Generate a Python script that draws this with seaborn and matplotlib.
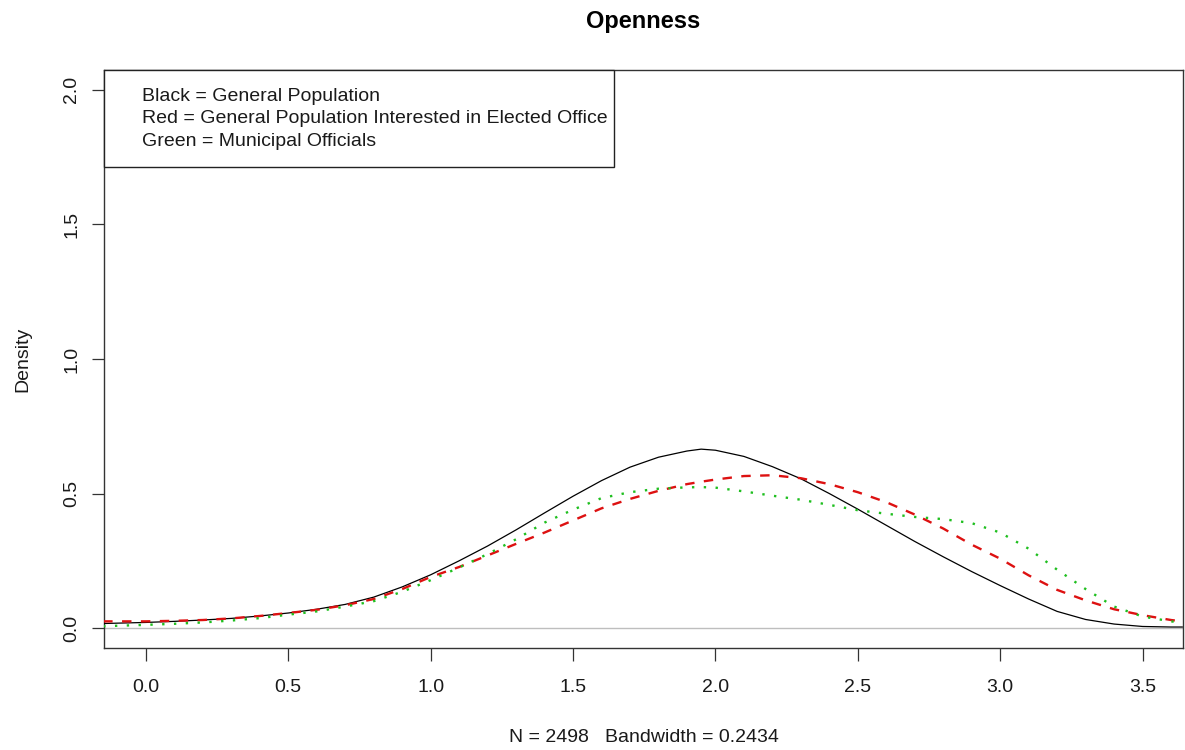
import matplotlib
matplotlib.use("Agg")
import matplotlib.pyplot as plt
from matplotlib.lines import Line2D
from matplotlib.ticker import FormatStrFormatter
import pandas as pd
import seaborn as sns

# density estimates
x_grid = [-0.15, 0.0, 0.1, 0.2, 0.3, 0.4, 0.5, 0.6, 0.7, 0.8, 0.9, 1.0,
          1.1, 1.2, 1.3, 1.4, 1.5, 1.6, 1.7, 1.8, 1.9, 1.95, 2.0, 2.1, 2.2,
          2.3, 2.4, 2.5, 2.6, 2.7, 2.8, 2.9, 3.0, 3.1, 3.2, 3.3, 3.4,
          3.5, 3.6, 3.64]
general_pop = [0.017, 0.021, 0.025, 0.030, 0.036, 0.045, 0.056, 0.070, 0.088, 0.115,
               0.153, 0.198, 0.250, 0.305, 0.365, 0.428, 0.490, 0.548, 0.598, 0.635,
               0.658, 0.665, 0.661, 0.638, 0.600, 0.555, 0.500, 0.442, 0.382, 0.322,
               0.265, 0.210, 0.158, 0.108, 0.062, 0.032, 0.015, 0.006, 0.004, 0.004]
interested = [0.025, 0.025, 0.027, 0.030, 0.036, 0.045, 0.056, 0.068, 0.085, 0.108,
              0.145, 0.190, 0.227, 0.270, 0.313, 0.355, 0.400, 0.445, 0.480, 0.510,
              0.535, 0.544, 0.552, 0.565, 0.568, 0.557, 0.535, 0.505, 0.468, 0.422,
              0.370, 0.310, 0.258, 0.196, 0.142, 0.103, 0.070, 0.048, 0.030, 0.025]
officials = [0.007, 0.012, 0.016, 0.021, 0.028, 0.037, 0.050, 0.062, 0.080, 0.100,
             0.135, 0.178, 0.225, 0.275, 0.330, 0.392, 0.440, 0.483, 0.505, 0.518,
             0.523, 0.524, 0.522, 0.508, 0.492, 0.477, 0.458, 0.438, 0.425, 0.413,
             0.405, 0.390, 0.355, 0.295, 0.217, 0.145, 0.080, 0.043, 0.025, 0.020]

legend_lines = ["Black = General Population",
                "Red = General Population Interested in Elected Office",
                "Green = Municipal Officials"]
y_ticks = [0.0, 0.5, 1.0, 1.5, 2.0]
x_ticks = [0.0, 0.5, 1.0, 1.5, 2.0, 2.5, 3.0, 3.5]

sns.set_style("white")
plt.rcParams["font.family"] = ["Liberation Sans", "DejaVu Sans"]

df = pd.DataFrame({"x": x_grid, "general": general_pop,
                   "interested": interested, "officials": officials})

fig = plt.figure(figsize=(11.85, 7.5), dpi=100)
ax = fig.add_axes([104 / 1185, 1 - 648 / 750, 1079 / 1185, 578 / 750])

ax.axhline(0, color="#bebebe", lw=1, zorder=1)

sns.lineplot(data=df, x="x", y="general", ax=ax, color="black", lw=0.9, zorder=3)
sns.lineplot(data=df, x="x", y="interested", ax=ax, color="#dd1111", lw=1.7,
             linestyle=(0, (4, 4)), zorder=3)
sns.lineplot(data=df, x="x", y="officials", ax=ax, color="#1fbf1f", lw=1.7,
             linestyle=(0, (1, 4)), zorder=3)

ax.set_xlim(-0.147, 3.642)
ax.set_ylim(-0.074, 2.074)
ax.set_xticks(x_ticks)
ax.set_yticks(y_ticks)
ax.xaxis.set_major_formatter(FormatStrFormatter("%.1f"))
ax.yaxis.set_major_formatter(FormatStrFormatter("%.1f"))

for sp in ax.spines.values():
    sp.set_visible(True)
    sp.set_color("#333333")
    sp.set_linewidth(1)

ax.tick_params(axis="both", direction="out", length=9, width=0.9, color="#333333",
               labelsize=14, labelcolor="#1a1a1a", bottom=True, left=True)
ax.tick_params(axis="x", pad=13)
ax.tick_params(axis="y", pad=8, labelrotation=90)
for lab in ax.get_yticklabels():
    lab.set_va("center")

ax.set_title("Openness", fontsize=17, fontweight="bold", pad=30, color="black")
ax.set_xlabel("N = 2498   Bandwidth = 0.2434", fontsize=14, labelpad=24, color="#1a1a1a")
ax.set_ylabel("Density", fontsize=14, labelpad=23, color="#1a1a1a")

# text-only legend box, fixed width like R's legend()
handles = [Line2D([], [], linestyle="none") for _ in legend_lines]
leg = ax.legend(handles, legend_lines, loc="upper left", mode="expand",
                bbox_to_anchor=(0, 0, 510 / 1079, 1), borderaxespad=0,
                handlelength=1.05, handletextpad=0, borderpad=0.9, labelspacing=0.24,
                fontsize=14, fancybox=False, framealpha=1, edgecolor="#222222")
leg.get_frame().set_linewidth(1)
for t in leg.get_texts():
    t.set_color("#1a1a1a")

fig.savefig("out.png", dpi=100)
